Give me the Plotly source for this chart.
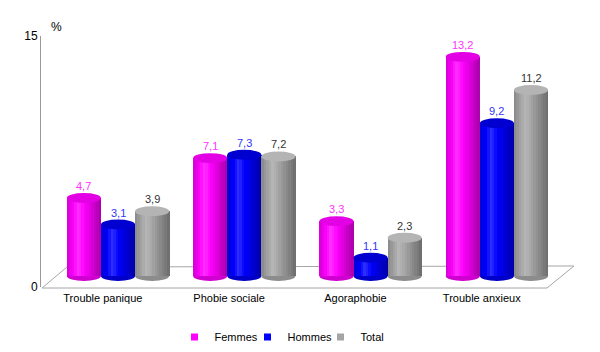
import plotly.graph_objects as go

categories = ["Trouble panique", "Phobie sociale", "Agoraphobie", "Trouble anxieux"]
femmes = [4.7, 7.1, 3.3, 13.2]
hommes = [3.1, 7.3, 1.1, 9.2]
total = [3.9, 7.2, 2.3, 11.2]
series_names = ["Femmes", "Hommes", "Total"]
y_ticks = [0, 15]

series = [femmes, hommes, total]
base_rgb = [(255, 0, 255), (0, 0, 255), (165, 165, 165)]
label_colors = ["#ff33ff", "#3333ff", "#333333"]
top_colors = ["#e400e4", "#0000d0", "#b4b4b4"]
bottom_colors = ["#d000d0", "#0000c8", "#8c8c8c"]

W, H = 600, 352
L, R, T, B = 41, 25, 20, 62
PX0, PX1, PY0, PY1 = L, W - R, T, H - B


def px(x):
    return (x - PX0) / (PX1 - PX0)


def py(y):
    return (PY1 - y) / (PY1 - PY0)


bw = 0.27          # cylinder width in x units
N = 14             # shading strips
eh = 0.30          # ellipse half height in y units


def shade(rgb, t):
    if t < 0.33:
        b = 0.82 + (1.12 - 0.82) * (t / 0.33)
    else:
        b = 1.12 - (1.12 - 0.66) * ((t - 0.33) / 0.67)
    out = []
    for c in rgb:
        if b <= 1:
            v = c * b
        else:
            v = c + (255 - c) * (b - 1) * 1.6
        out.append(int(max(0, min(255, v))))
    return "rgb(%d,%d,%d)" % tuple(out)


fig = go.Figure()
shapes = []

fl = [(42, 288), (67, 267), (574, 266), (547, 288)]
path = "M " + " L ".join("%f,%f" % (px(a), py(b)) for a, b in fl) + " Z"
shapes.append(dict(type="path", xref="paper", yref="paper", path=path,
                   line=dict(color="#a6a6a6", width=1), fillcolor="white", layer="below"))

annotations = []
for s, vals in enumerate(series):
    xs = [i + (s - 1) * bw for i in range(len(categories))]
    for k in range(N):
        t = (k + 0.5) / N
        fig.add_trace(go.Bar(
            x=xs, y=vals, base=0,
            offset=-bw / 2 + k * bw / N, width=bw / N * 1.15,
            marker=dict(color=shade(base_rgb[s], t), line=dict(width=0)),
            showlegend=False, hoverinfo="skip"))
    fig.add_trace(go.Scatter(x=[xs[0]], y=[None], name=series_names[s], mode="markers",
                             marker=dict(color="rgb(%d,%d,%d)" % base_rgb[s],
                                         symbol="square", size=7),
                             showlegend=True, hoverinfo="skip"))
    for x, v in zip(xs, vals):
        shapes.append(dict(type="circle", xref="x", yref="y",
                           x0=x - bw / 2, x1=x + bw / 2, y0=-eh, y1=eh,
                           fillcolor=bottom_colors[s], line=dict(width=0), layer="below"))
        shapes.append(dict(type="circle", xref="x", yref="y",
                           x0=x - bw / 2, x1=x + bw / 2, y0=v - eh, y1=v + eh,
                           fillcolor=top_colors[s], line=dict(width=0), layer="above"))
        annotations.append(dict(x=x, y=v, xref="x", yref="y", yshift=12,
                                text=("%.1f" % v).replace(".", ","), showarrow=False,
                                font=dict(size=11, color=label_colors[s],
                                          family="Liberation Sans, Arial")))

fig.add_trace(go.Scatter(x=[0], y=[0], xaxis="x", yaxis="y2", mode="markers",
                         marker=dict(opacity=0), showlegend=False, hoverinfo="skip"))

annotations.append(dict(x=px(49), y=py(18), xref="paper", yref="paper", text="%",
                        showarrow=False, font=dict(size=12, color="#000",
                                                   family="Liberation Sans, Arial")))

sc = 126.3
fig.update_layout(
    width=W, height=H,
    margin=dict(l=L, r=R, t=T, b=B, autoexpand=False),
    paper_bgcolor="white", plot_bgcolor="rgba(0,0,0,0)",
    barmode="overlay", bargap=0,
    font=dict(family="Liberation Sans, Arial", size=11, color="#000"),
    xaxis=dict(range=[(41 - 118) / sc, (41 - 118) / sc + (PX1 - PX0) / sc],
               tickvals=[i - 0.12 for i in range(len(categories))], ticktext=categories,
               showline=False, showgrid=False, zeroline=False, ticks="",
               tickfont=dict(size=11)),
    yaxis=dict(range=[-(PY1 - 276) / 16.6, (276 - PY0) / 16.6], visible=False,
               showgrid=False, zeroline=False),
    yaxis2=dict(domain=[py(287), py(36)], range=[0, 15], anchor="x",
                tickvals=y_ticks, ticktext=[str(v) for v in y_ticks],
                showline=True, linecolor="#999999", linewidth=1,
                showgrid=False, zeroline=False, ticks="", tickfont=dict(size=12)),
    shapes=shapes,
    annotations=annotations,
    legend=dict(orientation="h", x=px(284), xanchor="center", y=py(337), yanchor="middle",
                font=dict(size=11), itemwidth=30, entrywidth=28, entrywidthmode="pixels",
                bgcolor="rgba(0,0,0,0)"),
)

fig.write_html("out.html")
